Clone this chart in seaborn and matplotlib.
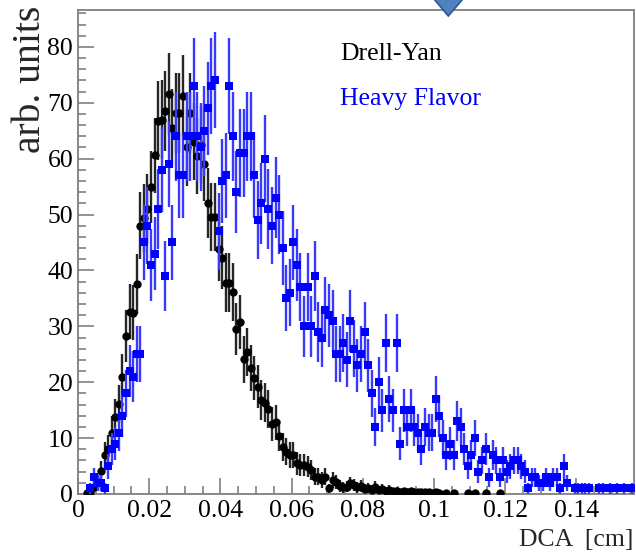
import numpy as np
import pandas as pd
import matplotlib
matplotlib.use("Agg")
import matplotlib.pyplot as plt
import seaborn as sns
from matplotlib.patches import Polygon
from matplotlib.ticker import FixedLocator, MultipleLocator

# ---- histogram definition: DCA in cm, 0.001 cm bins ----
bin_width = 0.001
n_bins = 156

# bin contents (arb. units), bin 0 .. bin 155
drell_yan = [
    0, 0, 0.15, 0.4, 1.3, 2.1, 4.2, 7.0, 8.1, 11.0,
    13.8, 16.1, 21.0, 28.3, 32.6, 32.4, 37.6, 48.0, 49.3, 51.0,
    55.0, 60.6, 66.8, 67.0, 68.5, 71.6, 65.5, 68.2, 68.2, 71.2,
    62.0, 68.1, 63.0, 60.5, 62.5, 59.0, 52.0, 49.5, 49.5, 43.8,
    42.3, 37.8, 37.8, 36.2, 29.5, 30.8, 24.1, 25.4, 22.5, 20.7,
    19.2, 16.8, 16.3, 15.2, 12.5, 12.8, 10.4, 8.4, 7.6, 7.0,
    7.0, 5.5, 5.2, 5.2, 4.9, 4.3, 3.1, 3.1, 2.5, 3.1,
    1.0, 2.5, 2.2, 1.4, 1.2, 1.3, 1.9, 1.6, 1.2, 1.5,
    0.9, 1.1, 0.8, 1.3, 0.7, 0.9, 0.6, 0.8, 0.5, 0.6,
    0.4, 0.5, 0.3, 0.5, 0.3, 0.4, 0.3, 0.3, 0.4, 0.2,
    0.3, 0.2, 0, 0.2, 0, 0.2, 0, 0, 0, 0.2,
    0, 0.2, 0, 0, 0.2, 0, 0, 0, 0.2, 0,
    0, 0, 0, 0, 0, 0, 0, 0, 0, 0,
    0, 0, 0, 0, 0, 0, 0, 0, 0, 0,
    0, 0, 0, 0, 0, 0, 0, 0, 0, 0,
    0, 0, 0, 0, 0, 0,
]

heavy_flavor = [
    0, 0, 0, 1, 3, 2, 2, 1, 5, 8,
    9, 11, 14, 18, 22, 21, 25, 25, 45, 48,
    41, 43, 51, 58, 39, 59, 45, 64, 57, 57,
    64, 64, 73, 64, 62, 65, 69, 73, 74, 47,
    56, 57, 73, 64, 54, 61, 61, 64, 64, 57,
    49, 52, 60, 51, 48, 53, 50, 44, 35, 36,
    45, 41, 37, 30, 37, 30, 39, 29, 28, 33,
    32, 31, 25, 25, 27, 24, 31, 26, 23, 25,
    29, 23, 18, 12, 20, 15, 27, 17, 15, 27,
    9, 15, 12, 15, 12, 11, 8, 12, 11, 11,
    17, 14, 10, 7, 9, 7, 13, 12, 8, 5,
    7, 10, 4, 6, 8, 3, 7, 6, 3, 6,
    4, 5, 6, 6, 5, 4, 1, 3, 3, 2,
    2, 3, 2, 3, 3, 1, 5, 2, 0, 1,
    1, 1, 1, 1, 0, 0, 1, 1, 0, 1,
    0, 1, 0, 1, 0, 1,
]

# per-entry weights used for the statistical (Poisson) uncertainties
weight_dy = 0.75
weight_hf = 1.0

series_names = ["Drell-Yan", "Heavy Flavor"]

x_ticks = [0, 0.02, 0.04, 0.06, 0.08, 0.10, 0.12, 0.14]
x_tick_labels = ["0", "0.02", "0.04", "0.06", "0.08", "0.1", "0.12", "0.14"]
y_ticks = [0, 10, 20, 30, 40, 50, 60, 70, 80]
y_tick_labels = ["0", "10", "20", "30", "40", "50", "60", "70", "80"]

# ---- long-format table of filled bins ----
centers = (np.arange(n_bins) + 0.5) * bin_width
frames = []
for name, vals, w in [(series_names[0], drell_yan, weight_dy),
                      (series_names[1], heavy_flavor, weight_hf)]:
    v = np.asarray(vals, dtype=float)
    frames.append(pd.DataFrame({
        "dca": centers,
        "value": v,
        "err": np.sqrt(v * w),
        "sample": name,
    }))
df = pd.concat(frames, ignore_index=True)
df = df[df["value"] > 0]

# ---- figure ----
sns.set_style("ticks")
plt.rcParams["font.family"] = ["Liberation Serif", "DejaVu Serif"]

W, H = 636, 553
fig = plt.figure(figsize=(W / 100, H / 100), dpi=100)
ax = fig.add_axes([78 / W, 1 - 494 / H, 556 / W, 484 / H])

styles = {
    "Drell-Yan": dict(marker="o", color="black", bar="#262626", size=36),
    "Heavy Flavor": dict(marker="s", color="#0000ff", bar="#3a3aff", size=26),
}

z = 2
for name in series_names:
    st = styles[name]
    sub = df[df["sample"] == name]
    ax.errorbar(sub["dca"], sub["value"], yerr=sub["err"], fmt="none",
                ecolor=st["bar"], elinewidth=1.7, capsize=0, zorder=z)
    sns.scatterplot(data=sub, x="dca", y="value", ax=ax, marker=st["marker"],
                    color=st["color"], s=st["size"], linewidth=0,
                    legend=False, zorder=z + 1)
    z += 2

ax.set_xlim(0, 0.1562)
ax.set_ylim(0, 86.6)
ax.set_xlabel("")
ax.set_ylabel("")

ax.xaxis.set_major_locator(FixedLocator(x_ticks))
ax.set_xticklabels(x_tick_labels)
ax.xaxis.set_minor_locator(MultipleLocator(0.005))
ax.yaxis.set_major_locator(FixedLocator(y_ticks))
ax.set_yticklabels(y_tick_labels)
ax.yaxis.set_minor_locator(MultipleLocator(2))

frame_color = "#808080"
for sp in ax.spines.values():
    sp.set_color(frame_color)
    sp.set_linewidth(1.3)
ax.tick_params(which="both", direction="in", color=frame_color, width=1.2,
               top=False, right=False, labelsize=18.5, labelcolor="black")
ax.tick_params(which="major", length=11.5)
ax.tick_params(which="minor", length=5.8)
ax.tick_params(axis="y", pad=3.5)
ax.tick_params(axis="x", pad=4)

# axis titles
fig.text(30 / W, 1 - 6 / H, "arb. units", rotation=90, ha="center", va="top",
         fontsize=28.5)
fig.text(633 / W, 1 - 546 / H, "DCA  [cm]", ha="right", va="baseline",
         fontsize=18.5)

# series labels
ax.text(0.471, 0.897, "Drell-Yan", transform=ax.transAxes, fontsize=18.5,
        color="black", ha="left", va="baseline")
ax.text(0.471, 0.804, "Heavy Flavor", transform=ax.transAxes, fontsize=18.5,
        color="#0000ff", ha="left", va="baseline")

# slide marker above the frame
fig.add_artist(Polygon([(425.5 / W, 1.02), (448.3 / W, 1 - 16 / H),
                        (471.5 / W, 1.02)], closed=True,
                       transform=fig.transFigure, facecolor="#4f81bd",
                       edgecolor="#2f5597", linewidth=1.2, clip_on=False))

fig.savefig("out.png", dpi=100)
